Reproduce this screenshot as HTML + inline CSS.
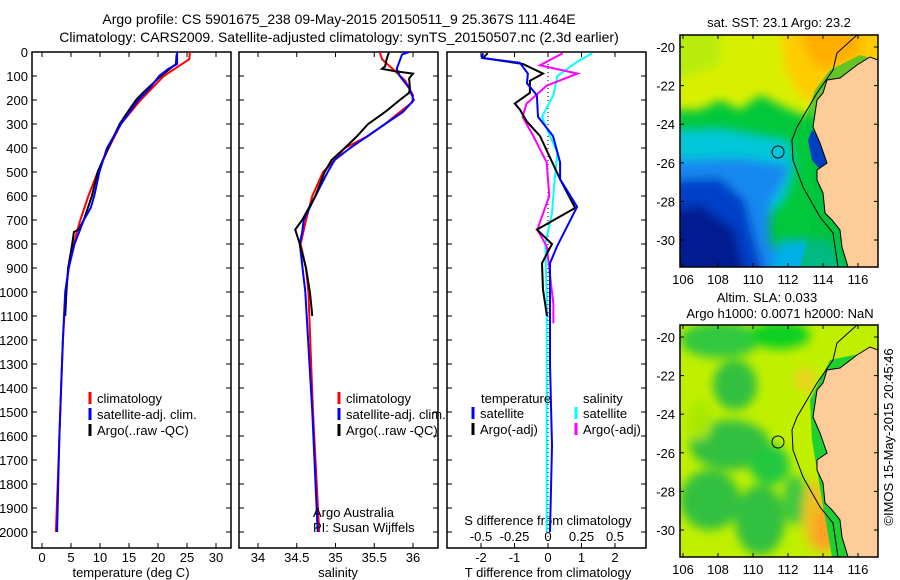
<!DOCTYPE html>
<html><head><meta charset="utf-8"><style>
html,body{margin:0;padding:0;background:#fff;}
svg{display:block;font-family:"Liberation Sans",sans-serif;}
</style></head><body>
<svg id="fig" width="900" height="580" viewBox="0 0 900 580" xmlns="http://www.w3.org/2000/svg">
<defs>
<filter id="bl" x="-20%" y="-20%" width="140%" height="140%"><feGaussianBlur stdDeviation="5"/></filter>
<clipPath id="c1"><rect x="680" y="35" width="198" height="232"/></clipPath>
<clipPath id="c2"><rect x="680" y="325" width="198" height="232"/></clipPath>
<clipPath id="p1"><rect x="32" y="52" width="199" height="496"/></clipPath>
<clipPath id="p2"><rect x="239" y="52" width="199" height="496"/></clipPath>
<clipPath id="p3"><rect x="447" y="52" width="199" height="496"/></clipPath>
</defs>
<text x="339" y="24" font-size="14" text-anchor="middle">Argo profile: CS 5901675_238 09-May-2015 20150511_9 25.367S 111.464E</text>
<text x="339" y="42" font-size="14" text-anchor="middle">Climatology: CARS2009. Satellite-adjusted climatology: synTS_20150507.nc (2.3d earlier)</text>

<!-- SST map -->
<g>
<text x="779" y="27" font-size="13" text-anchor="middle">sat. SST: 23.1  Argo: 23.2</text>
<g clip-path="url(#c1)">
<rect x="680" y="35" width="198" height="232" fill="#00c83a"/>
<g filter="url(#bl)">
<polygon points="670,25 890,25 890,120 820,120 790,110 760,95 740,110 720,100 700,110 670,110" fill="#d8f000"/>
<polygon points="670,25 720,25 720,65 690,75 670,80" fill="#b8ec10"/>
<polygon points="780,25 890,25 890,90 830,110 800,95 785,70" fill="#ffcc00"/>
<polygon points="800,25 860,25 860,55 820,70 805,50" fill="#ffae00"/>
<polygon points="670,130 720,128 760,135 790,140 795,170 785,200 770,215 750,230 720,215 700,200 670,200" fill="#00c8d8"/>
<polygon points="670,160 740,158 790,165 785,180 770,205 770,240 790,275 670,275" fill="#1888f0"/>
<polygon points="670,180 720,178 745,200 755,240 765,275 670,275" fill="#0040c8"/>
<polygon points="670,210 700,205 735,230 745,275 670,275" fill="#001a90"/>
<polygon points="780,240 830,240 845,275 770,275" fill="#00b0e8"/>
</g>
<polygon points="878,60 870,57 857,65 840,78 827,80 823,93 817,100 813,127 820,143 827,163 817,170 817,180 823,193 825,213 832,220 840,230 842,247 848,267 800,267 810,230 815,200 810,150 805,120 815,90 830,70 860,55" fill="#00c040" opacity="0.6"/>
<polygon points="812,130 822,140 830,160 822,172 812,160 808,140" fill="#0040c0"/>
<polygon points="878,60 870,57 857,65 840,78 827,80 823,93 817,100 813,127 820,143 827,163 817,170 817,180 823,193 825,213 832,220 840,230 842,247 848,267 890,267 890,60" fill="#fdcc99" stroke="#000" stroke-width="1"/>
<polyline points="878,33 857,35 837,53 833,70 817,93 797,127 792,140 793,160 803,187 820,217 833,233 838,267" fill="none" stroke="#000" stroke-width="1"/>
<circle cx="778" cy="152" r="6" fill="none" stroke="#000" stroke-width="1"/>
</g>
<rect x="680" y="35" width="198" height="232" fill="none" stroke="#000" stroke-width="1.5"/>
</g>

<!-- SLA map -->
<g>
<text x="767" y="302" font-size="13" text-anchor="middle">Altim. SLA: 0.033</text>
<text x="780" y="318" font-size="13" text-anchor="middle">Argo h1000: 0.0071 h2000: NaN</text>
<g clip-path="url(#c2)">
<rect x="680" y="325" width="198" height="232" fill="#c0f000"/>
<g filter="url(#bl)">
<ellipse cx="720" cy="340" rx="40" ry="18" fill="#30c840"/>
<ellipse cx="780" cy="335" rx="30" ry="14" fill="#10d020"/>
<ellipse cx="735" cy="385" rx="22" ry="25" fill="#30c040"/>
<ellipse cx="730" cy="445" rx="40" ry="25" fill="#30c040"/>
<ellipse cx="710" cy="500" rx="30" ry="30" fill="#30c040"/>
<ellipse cx="760" cy="520" rx="25" ry="35" fill="#30c040"/>
<ellipse cx="700" cy="420" rx="12" ry="20" fill="#a8e800"/>
<ellipse cx="770" cy="465" rx="20" ry="20" fill="#20c840"/>
<ellipse cx="795" cy="500" rx="12" ry="25" fill="#40c840"/>
<ellipse cx="815" cy="515" rx="12" ry="35" fill="#f0c020"/>
<ellipse cx="825" cy="530" rx="12" ry="22" fill="#ffa020"/>
<ellipse cx="805" cy="380" rx="10" ry="12" fill="#f0d020"/>
</g>
<polygon points="878,350 870,347 857,355 840,368 827,370 823,383 817,390 813,417 820,433 827,453 817,460 817,470 823,483 825,503 832,510 840,520 842,537 848,557 832,557 822,500 812,440 810,400 830,360" fill="#20d030"/>
<polygon points="878,350 870,347 857,355 840,368 827,370 823,383 817,390 813,417 820,433 827,453 817,460 817,470 823,483 825,503 832,510 840,520 842,537 848,557 890,557 890,350" fill="#fdcc99" stroke="#000" stroke-width="1"/>
<polyline points="878,323 857,325 837,343 833,360 817,383 797,417 792,430 793,450 803,477 820,507 833,523 838,557" fill="none" stroke="#000" stroke-width="1"/>
<circle cx="778" cy="442" r="6" fill="none" stroke="#000" stroke-width="1"/>
</g>
<rect x="680" y="325" width="198" height="232" fill="none" stroke="#000" stroke-width="1.5"/>
</g>
<text transform="translate(893,437) rotate(-90)" font-size="13" text-anchor="middle">©IMOS 15-May-2015 20:45:46</text>

<g id="plots"></g>
</svg>
<script>
// ---- data ----
var depthTicks=[0,100,200,300,400,500,600,700,800,900,1000,1100,1200,1300,1400,1500,1600,1700,1800,1900,2000];
var tempTicks=[0,5,10,15,20,25,30];
var salTicks=[34,34.5,35,35.5,36];
var dTTicks=[-2,-1,0,1,2];
var dSTicks=[-0.5,-0.25,0,0.25,0.5];
var dSTickLabels=["-0.5","-0.25","0","0.25","0.5"];

var tClimD=[0,30,60,100,150,200,300,400,500,600,700,750,800,900,1000,1200,1400,1600,1800,2000];
var tClim=[25.5,25.4,23.5,21,19,17,13.6,11.5,9.6,8.0,6.6,6.0,5.5,4.6,4.1,3.6,3.3,3.0,2.7,2.4];
var tSatD=[0,50,70,100,150,200,300,400,500,600,650,700,800,900,1000,1200,1400,1600,1800,2000];
var tSat=[23.3,23.3,21.8,20.2,18.6,16.6,13.6,11.2,9.9,9.0,8.4,7.2,5.6,4.6,4.0,3.6,3.3,3.0,2.8,2.6];
var tArgoD=[10,50,100,170,200,270,300,400,500,600,700,740,750,800,900,1000,1100];
var tArgo=[23.2,23.1,20.5,17.4,16.2,14.2,13.4,11.4,9.6,8.6,7.2,6.3,5.5,5.2,4.5,4.2,4.0];

var sClimD=[0,30,80,120,180,210,250,300,350,400,450,500,600,700,800,900,1000,1500,2000];
var sClim=[35.57,35.60,35.77,35.90,36.0,35.99,35.83,35.64,35.42,35.12,34.99,34.84,34.70,34.62,34.55,34.62,34.65,34.71,34.79];
var sSatD=[0,10,70,100,150,200,250,300,400,450,500,600,700,750,800,1000,1500,2000];
var sSat=[35.95,35.86,35.79,35.83,35.95,36.01,35.87,35.64,35.19,34.99,34.90,34.74,34.59,34.57,34.54,34.61,34.70,34.77];
var sArgoD=[0,30,60,70,80,90,110,150,170,200,250,300,350,400,450,500,600,700,740,800,900,1000,1100];
var sArgo=[35.69,35.66,35.64,35.60,35.77,36.0,35.95,35.96,35.95,35.83,35.64,35.42,35.28,35.12,34.95,34.86,34.74,34.57,34.48,34.54,34.62,34.67,34.70];

var dTSatD=[5,25,45,90,130,180,270,350,460,530,645,810,880,1300,1640,2000];
var dTSat=[-1.94,-1.97,-0.84,-0.6,-0.63,-0.33,-0.3,0.15,0.36,0.36,0.87,0.27,0.06,0.06,0.12,0.06];
var dTArgoD=[5,25,50,90,120,170,215,240,290,350,440,530,650,740,800,880,990,1100];
var dTArgo=[-1.8,-1.94,-0.75,-0.15,-0.54,-0.54,-0.99,-0.84,-0.63,-0.24,0.06,0.36,0.81,-0.33,0.12,-0.18,-0.15,-0.03];
var dSSatD=[5,40,100,180,270,320,420,530,670,800,1020,1640,2000];
var dSSat=[0.33,0.22,0.07,0.04,-0.045,-0.01,0.07,0.05,0.03,-0.02,-0.01,-0.01,-0.01];
var dSArgoD=[5,55,90,140,215,270,350,460,600,740,810,1050,1130];
var dSArgo=[0.11,-0.06,0.22,-0.01,-0.16,-0.19,-0.11,-0.01,0.01,-0.08,-0.01,0.04,0.04];

// ---- scales ----
function yD(d){return 52+d*0.24;}
function xT(t){return 42+t*5.8;}
function xS(s){return 258+(s-34)*77.5;}
function xdT(v){return 548+v*33.5;}
function xdS(v){return 548+v*134;}

var NS="http://www.w3.org/2000/svg";
var root=document.getElementById('plots');
function mk(tag,attrs,parent){var e=document.createElementNS(NS,tag);for(var k in attrs)e.setAttribute(k,attrs[k]);(parent||root).appendChild(e);return e;}
function txt(x,y,s,anchor,parent){var t=mk('text',{x:x,y:y,'font-size':13,'text-anchor':anchor||'middle'},parent);t.textContent=s;return t;}

var panels=[{x0:32,id:'temperature',clip:'p1'},{x0:239,id:'salinity',clip:'p2'},{x0:447,id:'difference',clip:'p3'}];
panels.forEach(function(p){
  var g=mk('g',{});
  
  
  p.g=g;
  var f=mk('rect',{x:p.x0,y:52,width:199,height:496,fill:'none',stroke:'#000','stroke-width':1.5},g);
  
  
  depthTicks.forEach(function(d){
    mk('line',{x1:p.x0,x2:p.x0+5,y1:yD(d),y2:yD(d),stroke:'#000'},g);
    mk('line',{x1:p.x0+199,x2:p.x0+194,y1:yD(d),y2:yD(d),stroke:'#000'},g);
  });
});
var yl=mk('g',{});


depthTicks.forEach(function(d){txt(28,yD(d)+5,String(d),'end',yl);});

function xticks(g,vals,labels,fx,ylab){
  vals.forEach(function(v,i){
    var x=fx(v);
    mk('line',{x1:x,x2:x,y1:548,y2:543,stroke:'#000'},g);
    mk('line',{x1:x,x2:x,y1:52,y2:57,stroke:'#000'},g);
    if(ylab!==null){txt(x,ylab,labels[i],'middle',g);}
  });
}
xticks(panels[0].g,tempTicks,tempTicks.map(String),xT,562);
xticks(panels[1].g,salTicks,salTicks.map(String),xS,562);
xticks(panels[2].g,dTTicks,dTTicks.map(String),xdT,562);
dSTicks.forEach(function(v,i){txt(xdS(v),541,dSTickLabels[i],'middle',panels[2].g);});

var l1=txt(131,577,'temperature (deg C)','middle',panels[0].g);


var l2=txt(338,577,'salinity','middle',panels[1].g);


var l3=txt(548,577,'T difference from climatology','middle',panels[2].g);


var l4=txt(548,525,'S difference from climatology','middle',panels[2].g);



var zl=mk('line',{x1:xdT(0),x2:xdT(0),y1:52,y2:548,stroke:'#000','stroke-dasharray':'1,3'},panels[2].g);



function series(g,clip,ds,vs,fx,color,name){
  var pts=ds.map(function(d,i){return fx(vs[i]).toFixed(1)+','+yD(d).toFixed(1);}).join(' ');
  var pl=mk('polyline',{points:pts,fill:'none',stroke:color,'stroke-width':2,'clip-path':'url(#'+clip+')'},g);
  
  
}
series(panels[0].g,'p1',tClimD,tClim,xT,'#ff0000','temp-climatology-line');
series(panels[0].g,'p1',tArgoD,tArgo,xT,'#000000','temp-argo-line');
series(panels[0].g,'p1',tSatD,tSat,xT,'#0000ff','temp-satellite-line');
series(panels[1].g,'p2',sClimD,sClim,xS,'#ff0000','sal-climatology-line');
series(panels[1].g,'p2',sSatD,sSat,xS,'#0000ff','sal-satellite-line');
series(panels[1].g,'p2',sArgoD,sArgo,xS,'#000000','sal-argo-line');
series(panels[2].g,'p3',dSSatD,dSSat,xdS,'#00ffff','dsal-satellite-line');
series(panels[2].g,'p3',dSArgoD,dSArgo,xdS,'#ff00ff','dsal-argo-line');
series(panels[2].g,'p3',dTArgoD,dTArgo,xdT,'#000000','dtemp-argo-line');
series(panels[2].g,'p3',dTSatD,dTSat,xdT,'#0000ff','dtemp-satellite-line');

function legend(g,x,y,color,label,name){
  var e=mk('g',{},g);
  
  
  mk('line',{x1:x,x2:x,y1:y-11,y2:y+1,stroke:color,'stroke-width':3},e);
  txt(x+7,y,label,'start',e);
}
legend(panels[0].g,90,403,'#ff0000','climatology','legend-climatology');
legend(panels[0].g,90,419,'#0000ff','satellite-adj. clim.','legend-satellite-adj');
legend(panels[0].g,90,435,'#000000','Argo(..raw -QC)','legend-argo');
legend(panels[1].g,339,403,'#ff0000','climatology','legend-climatology-2');
legend(panels[1].g,339,419,'#0000ff','satellite-adj. clim.','legend-satellite-adj-2');
legend(panels[1].g,339,435,'#000000','Argo(..raw -QC)','legend-argo-2');
txt(481,403,'temperature','start',panels[2].g);
txt(583,403,'salinity','start',panels[2].g);
legend(panels[2].g,473,418,'#0000ff','satellite','legend-t-satellite');
legend(panels[2].g,473,434,'#000000','Argo(-adj)','legend-t-argo');
legend(panels[2].g,576,418,'#00ffff','satellite','legend-s-satellite');
legend(panels[2].g,576,434,'#ff00ff','Argo(-adj)','legend-s-argo');

var a1=txt(313,517,'Argo Australia','start',panels[1].g);


var a2=txt(313,532,'PI: Susan Wijffels','start',panels[1].g);



var latTicks=[-20,-22,-24,-26,-28,-30];
var lonTicks=[106,108,110,112,114,116];
function mapAxes(top,latY0,lonLabY,nm){
  var g=mk('g',{});
  
  
  latTicks.forEach(function(l){
    var y=latY0+(-20-l)*19.3;
    mk('line',{x1:680,x2:684,y1:y,y2:y,stroke:'#000'},g);
    mk('line',{x1:878,x2:874,y1:y,y2:y,stroke:'#000'},g);
    txt(675,y+5,String(l),'end',g);
  });
  lonTicks.forEach(function(l){
    var x=683+(l-106)*17.5;
    mk('line',{x1:x,x2:x,y1:top,y2:top+4,stroke:'#000'},g);
    mk('line',{x1:x,x2:x,y1:top+232,y2:top+228,stroke:'#000'},g);
    txt(x,lonLabY,String(l),'middle',g);
  });
}
mapAxes(35,47,284,'sst-map-axes');
mapAxes(325,337,574,'sla-map-axes');
</script>
</body></html>
